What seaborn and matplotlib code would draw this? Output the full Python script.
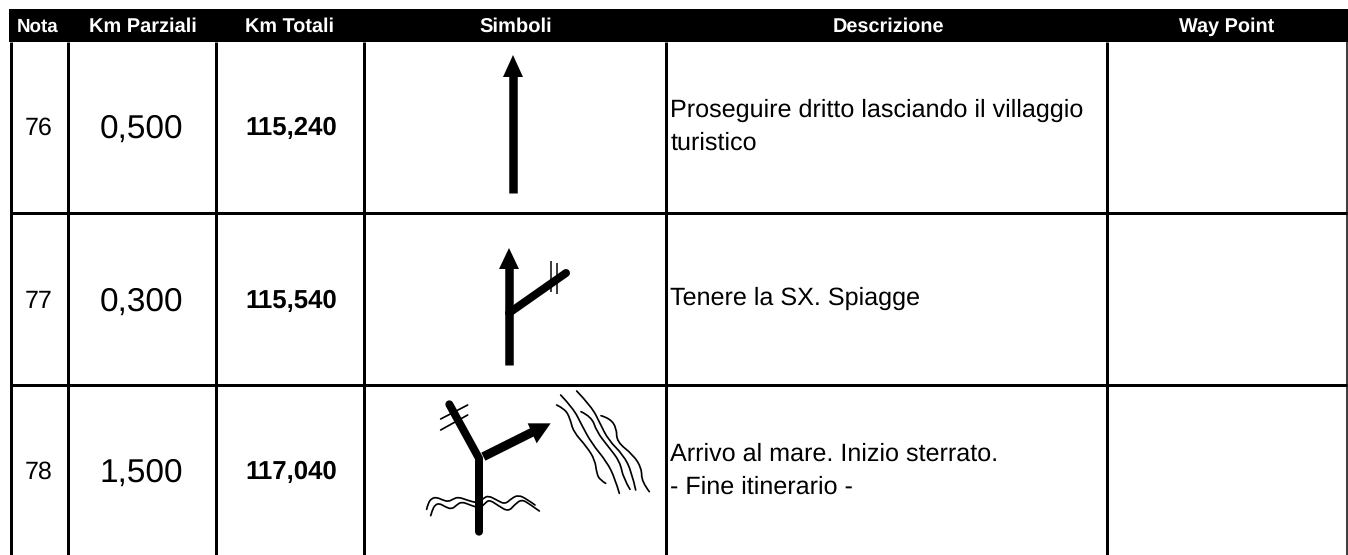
# Tableau road-book : 3 lignes avec symboles dessinés
import matplotlib
matplotlib.use("Agg")
import matplotlib.pyplot as plt
import pandas as pd
import seaborn as sns
from matplotlib.patches import PathPatch
from matplotlib.path import Path

# Contenu du tableau
headers = ["Nota", "Km Parziali", "Km Totali", "Simboli", "Descrizione", "Way Point"]
note = ["76", "77", "78"]
km_parziali = ["0,500", "0,300", "1,500"]
km_totali = ["115,240", "115,540", "117,040"]
descrizione = [
    ["Proseguire dritto lasciando il villaggio", "turistico"],
    ["Tenere la SX. Spiagge"],
    ["Arrivo al mare. Inizio sterrato.", "- Fine itinerario -"],
]

# Grille (en pixels de l'image)
col_edges = [10.5, 68, 216, 364, 666, 1107, 1348]
row_edges = [42, 212.5, 384.5, 555]
row_text_y = [126, 299, 470]
desc_y = [[117, 149.5], [305], [461, 493.5]]
header_x = [38, 143, 290, 516, 888, 1227]
header_sizes = [13.5, 14.4, 14.3, 14.5, 14.3, 14.3]

# Symboles, relevés en pixels de l'image
sym1_shaft = [(513, 193), (513, 70)]
sym1_head = [(513, 55), (503, 77), (523, 77)]
sym2_shaft = [(509, 365), (509, 262)]
sym2_head = [(509, 248), (499, 269), (519, 269)]
sym2_branch = [(509, 313), (566, 273)]
sym2_ticks = [[(551, 261), (551, 292)], [(557, 263), (557, 294)]]


# Conversion depuis le crop x3 du 3e symbole
def sc(points):
    return [(400 + x / 3, 375 + y / 3) for x, y in points]


sym3_road = sc([(237, 470), (237, 250), (148, 88)])
sym3_arrow = sc([(250, 245), (410, 165)])
sym3_head = sc([(452, 145), (383, 145), (410, 205)])
sym3_ticks = [sc([(122, 132), (203, 90)]), sc([(122, 165), (203, 120)])]
sym3_waves = [
    sc([(80, 403), (84, 385), (95, 370), (110, 367), (128, 375), (145, 380), (160, 372),
        (175, 366), (200, 375), (235, 385), (250, 370), (265, 362), (290, 375), (315, 388),
        (335, 370), (355, 360), (380, 372), (405, 390)]),
    sc([(92, 422), (97, 405), (105, 390), (118, 385), (135, 395), (155, 403), (170, 390),
        (185, 380), (210, 390), (240, 400), (255, 385), (268, 374), (295, 392), (325, 410),
        (345, 388), (365, 373), (390, 388), (418, 408)]),
]
sym3_river = [
    sc([(470, 90), (495, 102), (510, 130), (520, 170), (560, 215), (585, 255), (590, 295), (600, 315), (617, 325)]),
    sc([(482, 60), (520, 100), (545, 150), (575, 205), (620, 260), (645, 310), (658, 355)]),
    sc([(543, 110), (575, 125), (590, 170), (625, 215), (660, 260), (670, 310), (690, 343)]),
    sc([(530, 48), (575, 95), (600, 145), (625, 195), (670, 240), (695, 290), (707, 345)]),
    sc([(603, 122), (630, 130), (650, 160), (650, 200), (700, 240), (725, 280), (725, 320), (748, 350)]),
]


def px(w):
    # largeur en pixels -> points
    return w * 0.72


def segments(lines):
    rows = []
    for i, line in enumerate(lines):
        for j, (x, y) in enumerate(line):
            rows.append({"x": x, "y": y, "seg": i, "ordre": j})
    return pd.DataFrame(rows)


def trace(ax, lines, width, cap="butt"):
    sns.lineplot(data=segments(lines), x="x", y="y", units="seg", estimator=None,
                 sort=False, color="black", linewidth=px(width), ax=ax, legend=False,
                 solid_capstyle=cap, solid_joinstyle="round")


def courbe(ax, points, width):
    # trait ondulé : les points relevés servent de points de contrôle
    verts = [points[0]]
    codes = [Path.MOVETO]
    for k in range(1, len(points) - 1):
        fin = points[k + 1] if k == len(points) - 2 else ((points[k][0] + points[k + 1][0]) / 2, (points[k][1] + points[k + 1][1]) / 2)
        verts += [points[k], fin]
        codes += [Path.CURVE3, Path.CURVE3]
    ax.add_patch(PathPatch(Path(verts, codes), facecolor="none", edgecolor="black",
                           linewidth=px(width), capstyle="round"))


sns.set_theme(style="white")
plt.rcParams["font.family"] = ["Liberation Sans", "DejaVu Sans"]
plt.rcParams["text.hinting"] = "no_hinting"

fig = plt.figure(figsize=(13.48, 5.55), dpi=100)
ax = fig.add_axes([0, 0, 1, 1])

# Bandeau d'en-tête
ax.fill_between([9, 1348], 9, 42, color="black", linewidth=0)

# Grille
vert = [[(x, row_edges[0]), (x, row_edges[-1])] for x in col_edges[:-1]]
hori = [[(col_edges[0], y), (1347, y)] for y in row_edges[1:3]]
trace(ax, vert + hori, 3)
trace(ax, [[(1347.3, row_edges[0]), (1347.3, row_edges[-1])]], 1.5)

# En-têtes
for cx, lab, fs in zip(header_x, headers, header_sizes):
    ax.text(cx, 32, lab, color="white", fontsize=fs, fontweight="bold", ha="center", va="baseline")

# Lignes de texte
for i in range(3):
    y = row_text_y[i]
    ax.text(39, y, note[i], fontsize=18, ha="center", va="center_baseline", color="black")
    ax.text(141, y, km_parziali[i], fontsize=24, ha="center", va="center_baseline", color="black")
    ax.text(291, y, km_totali[i], fontsize=18.5, fontweight="bold", ha="center", va="center_baseline", color="black")
    for txt, ty in zip(descrizione[i], desc_y[i]):
        ax.text(670.5, ty, txt, fontsize=18.1, ha="left", va="baseline", color="black")

# Symboles
trace(ax, [sym1_shaft, sym2_shaft], 8.5)
trace(ax, [sym2_branch], 8, "round")
trace(ax, sym2_ticks, 1.5)
trace(ax, [sym3_road], 8, "round")
trace(ax, [sym3_arrow], 9)
trace(ax, sym3_ticks, 1.7, "round")
for ligne in sym3_waves + sym3_river:
    courbe(ax, ligne, 1.7)
for head in [sym1_head, sym2_head, sym3_head]:
    ax.fill([p[0] for p in head], [p[1] for p in head], color="black", linewidth=0)

ax.set_xlim(0, 1348)
ax.set_ylim(555, 0)
ax.axis("off")

fig.savefig("out.png", dpi=100)
